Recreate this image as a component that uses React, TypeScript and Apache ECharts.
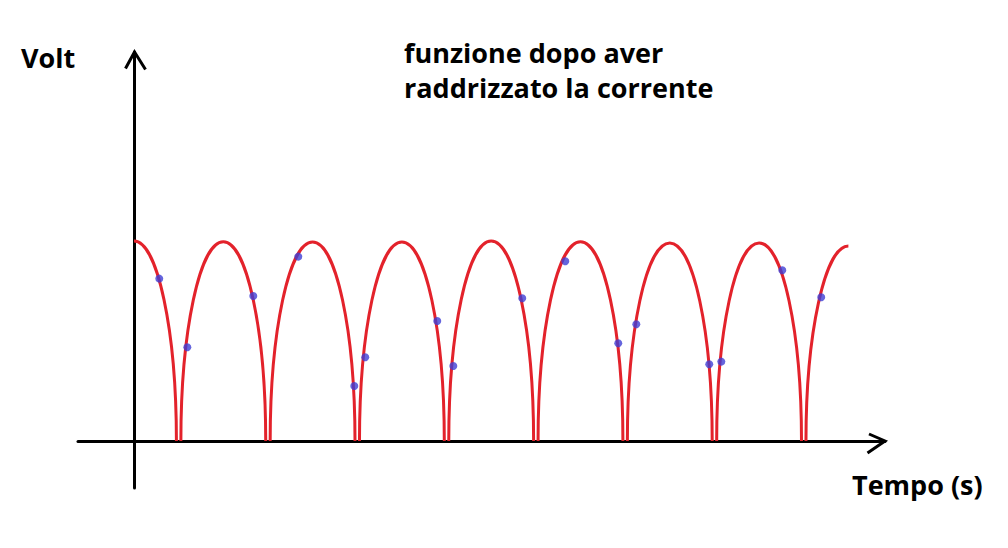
import React, { useEffect, useRef } from "react";
import * as echarts from "echarts";

// Full-wave rectified voltage: one arch per half period (time in ms, voltage normalised)
const archPeakTimes = [0, 10, 20, 30, 40, 50, 60, 70, 80];
const archPeakVolts = [1.0, 0.995, 0.995, 0.995, 1.0, 0.995, 0.99, 0.99, 0.975];
const archHalfWidth = 4.75;
const curveStart = 0;
const curveEnd = 80;

// Measured sample points (blue dots)
const sampleTimes = [2.83, 5.97, 13.36, 18.4, 24.67, 25.9, 33.96, 35.76, 43.48, 48.3, 54.23, 56.25, 64.42, 65.77, 72.6, 76.96];
const sampleVolts = [0.812, 0.469, 0.725, 0.922, 0.275, 0.419, 0.6, 0.375, 0.714, 0.899, 0.489, 0.584, 0.384, 0.397, 0.854, 0.719];

const xMin = -6.27;
const xMax = 84.1;
const yMin = -0.235;
const yMax = 1.945;

const titleLines = ["funzione dopo aver", "raddrizzato la corrente"];
const yName = "Volt";
const xName = "Tempo (s)";

const FONT = "'Open Sans'";
const RED = "#e3222b";
const BLUE = "#3f3fd4";

export default function App() {
  const ref = useRef<HTMLDivElement>(null);
  useEffect(() => {
    if (!ref.current) return;
    const chart = echarts.init(ref.current, undefined, { renderer: "svg" });
    const archData = archPeakTimes.map((t, i) => [t, archPeakVolts[i]]);
    const dots = sampleTimes.map((t, i) => [t, sampleVolts[i]]);
    const axisCommon = {
      type: "value" as const,
      axisTick: { show: false },
      axisLabel: { show: false },
      splitLine: { show: false },
      axisLine: { show: true, onZero: true, lineStyle: { color: "#000", width: 3 } },
    };
    chart.setOption({
      animation: false,
      backgroundColor: "#fff",
      grid: { left: 78, right: 123, top: 52, bottom: 60 },
      xAxis: { ...axisCommon, min: xMin, max: xMax },
      yAxis: { ...axisCommon, min: yMin, max: yMax },
      series: [
        {
          type: "custom",
          data: archData,
          clip: false,
          renderItem: (params: any, api: any) => {
            const c = api.value(0);
            const peak = api.value(1);
            const hw = archHalfWidth;
            const l = Math.max(c - hw, curveStart);
            const r = Math.min(c + hw, curveEnd);
            const yAt = (x: number) => peak * Math.sqrt(Math.max(0, 1 - ((x - c) / hw) ** 2));
            const p0 = api.coord([l, yAt(l)]);
            const p1 = api.coord([r, yAt(r)]);
            const ctr = api.coord([c, 0]);
            const top = api.coord([c, peak]);
            const rx = api.coord([c + hw, 0])[0] - ctr[0];
            const ry = ctr[1] - top[1];
            return {
              type: "path",
              shape: {
                pathData: `M${p0[0]} ${p0[1]} A${rx} ${ry} 0 0 1 ${p1[0]} ${p1[1]}`,
              },
              style: { fill: "none", stroke: RED, lineWidth: 3 },
            };
          },
          z: 2,
        },
        {
          type: "scatter",
          data: dots,
          symbol: "circle",
          symbolSize: 8,
          itemStyle: { color: BLUE },
          z: 3,
        },
      ],
    });

    const yTip = chart.convertToPixel({ gridIndex: 0 }, [0, yMax]) as number[];
    const xTip = chart.convertToPixel({ gridIndex: 0 }, [xMax, 0]) as number[];
    const label = (text: string, x: number, y: number) => ({
      type: "text",
      x,
      y,
      style: { text, fill: "#000", font: `bold 27px ${FONT}`, verticalAlign: "middle" },
    });
    chart.setOption({
      graphic: [
        {
          type: "polyline",
          shape: { points: [[yTip[0] - 8.5, yTip[1] + 16.5], [yTip[0] + 0.5, yTip[1]], [yTip[0] + 11.5, yTip[1] + 17.5]] },
          style: { stroke: "#000", lineWidth: 3, fill: "none" },
        },
        {
          type: "polyline",
          shape: { points: [[xTip[0] - 16, xTip[1] - 7], [xTip[0], xTip[1]], [xTip[0] - 17.5, xTip[1] + 12]] },
          style: { stroke: "#000", lineWidth: 3, fill: "none" },
        },
        label(yName, 21, 57),
        label(titleLines[0], 404, 52),
        label(titleLines[1], 404, 87),
        label(xName, 852, 484),
      ],
    });
    return () => chart.dispose();
  }, []);
  return (
    <div
      ref={ref}
      style={{ position: "fixed", left: 0, top: 0, width: 1008, height: 548, background: "#fff" }}
    />
  );
}
